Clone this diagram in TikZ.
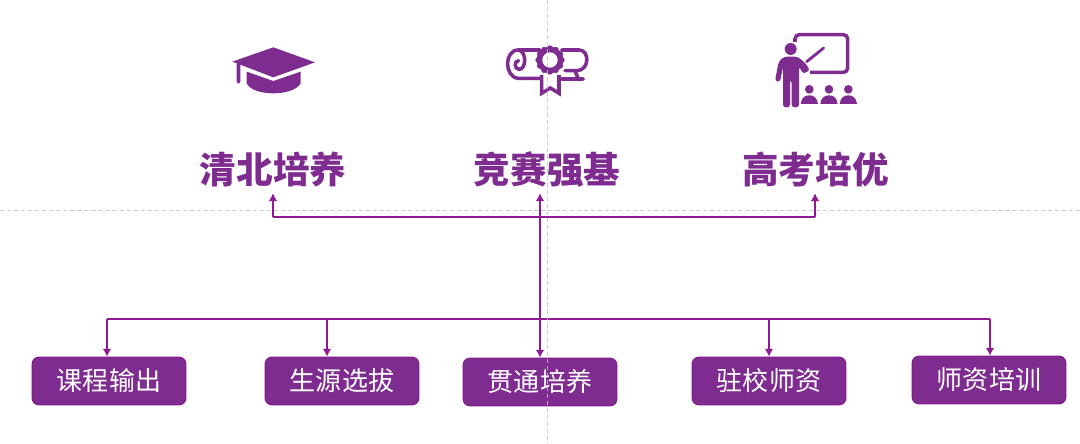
\documentclass[tikz,border=0pt]{standalone}
\usepackage{fontspec}
\setmainfont{Noto Sans CJK SC}
\definecolor{capfill}{HTML}{7F2C90}
\definecolor{linkline}{HTML}{8E1A94}
\definecolor{boxline}{HTML}{860F8C}
\definecolor{guideline}{HTML}{C0C0C0}
\tikzset{
  titlenode/.style={text=capfill,font=\fontsize{26pt}{28pt}\bfseries,minimum height=32.7pt,inner sep=0pt},
  boxnode/.style={draw=boxline,fill=capfill,text=white,rounded corners=5pt,minimum width=109.5pt,minimum height=34.1pt,inner sep=0pt,line width=0.6pt,font=\fontsize{18.5pt}{20pt}\selectfont},
  link/.style={linkline,line width=0.85pt,-{Latex[length=5.5pt,width=6pt]}},
  bus/.style={linkline,line width=0.85pt},
  guide/.style={guideline,line width=0.6pt,dash pattern=on 3pt off 2pt,opacity=0.8},
  zoomed/.style={x=0.025cm/3,y=-0.025cm/3},
  icon/.style={capfill,line width=2.5pt,line cap=round}
}
\usetikzlibrary{arrows.meta}
\begin{document}
\begin{tikzpicture}[x=0.025cm,y=-0.025cm]
\useasboundingbox (0,0) rectangle (1080,444);
\begin{scope}[shift={(200,20)},zoomed]
\fill [capfill] (220,82) -- (345,127) -- (220,172) -- (97,125) -- cycle;
\fill [capfill,rounded corners=1pt] (110,128) rectangle (121,190);
\fill [capfill] (140,155) -- (220,183) -- (302,155) -- (302,190) .. controls (290,212) and (250,220) .. (220,220) .. controls (190,220) and (150,212) .. (140,190) -- cycle;
\end{scope}
\begin{scope}[shift={(490,20)},zoomed]
\draw [icon] (150,90) -- (85,90) .. controls (42,90) and (42,172) .. (85,175) -- (150,175);
\draw [icon] (85,90) .. controls (112,95) and (108,148) .. (88,148) .. controls (72,148) and (72,122) .. (86,122);
\draw [icon] (215,90) -- (268,90) .. controls (300,92) and (298,150) .. (262,152) -- (225,152);
\draw [icon] (255,152) -- (265,177) -- (280,177) (215,177) -- (265,177);
\draw [icon,fill=white,line cap=butt] (155,165) -- (155,220) -- (181,204) -- (207,220) -- (207,165);
\fill [capfill] (180,120) circle (40);
\foreach \ang in {0,30,...,330} {
  \fill [capfill] (180,120) ++(\ang:36) circle (8);
}
\fill [white] (180,120) circle (23);
\end{scope}
\begin{scope}[shift={(760,20)},zoomed]
\draw [capfill,line width=2.5pt,rounded corners=3pt] (105,66) -- (105,44) -- (263,44) -- (263,157) -- (150,157);
\fill [capfill] (92,87) circle (18);
\fill [capfill,rounded corners=2pt] (45,183) -- (56,125) -- (72,110) -- (112,110) -- (135,128) -- (150,150) -- (130,162) -- (117,140) -- (117,262) -- (95,262) -- (95,180) -- (90,180) -- (90,262) -- (69,262) -- (69,140) -- (60,186) -- cycle;
\draw [capfill,line width=2pt,line cap=round] (140,125) -- (191,84);
\foreach \px in {148,207,265} {
  \fill [capfill] (\px,208) circle (13);
  \fill [capfill] (\px-26,252) .. controls (\px-24,232) and (\px-12,226) .. (\px,226) .. controls (\px+12,226) and (\px+24,232) .. (\px+26,252) -- cycle;
}
\end{scope}
\node [titlenode] (qb) at (273,170) {清北培养};
\node [titlenode] (js) at (547,170) {竞赛强基};
\node [titlenode] (gk) at (815.5,170) {高考培优};
\node [boxnode] (kc) at (109,381) {课程输出};
\node [boxnode] (sy) at (342,381) {生源选拔};
\node [boxnode] (gt) at (540,382) {贯通培养};
\node [boxnode] (zx) at (769,381) {驻校师资};
\node [boxnode] (sz) at (989,380) {师资培训};
\coordinate (topl) at (273,217);
\coordinate (topm) at (540,217);
\coordinate (topr) at (815,217);
\coordinate (busl) at (107,319);
\coordinate (busa) at (327,319);
\coordinate (busb) at (769,319);
\coordinate (busr) at (990,319);
\draw [link] (topl) -- (qb.south -| topl);
\draw [link] (topr) -- (gk.south -| topr);
\draw [bus] (topl) -- (topr);
\draw [bus] (busl) -- (busr);
\draw [link,{Latex[length=5.5pt,width=6pt]}-{Latex[length=5.5pt,width=6pt]}] (js.south -| topm) -- (gt.north);
\draw [link] (busl) -- (kc.north -| busl);
\draw [link] (busa) -- (sy.north -| busa);
\draw [link] (busb) -- (zx.north);
\draw [link] (busr) -- (sz.north -| busr);
\draw [guide] (0,210.5) -- (1080,210.5);
\draw [guide] (547.5,0) -- (547.5,444);
\end{tikzpicture}
\end{document}
